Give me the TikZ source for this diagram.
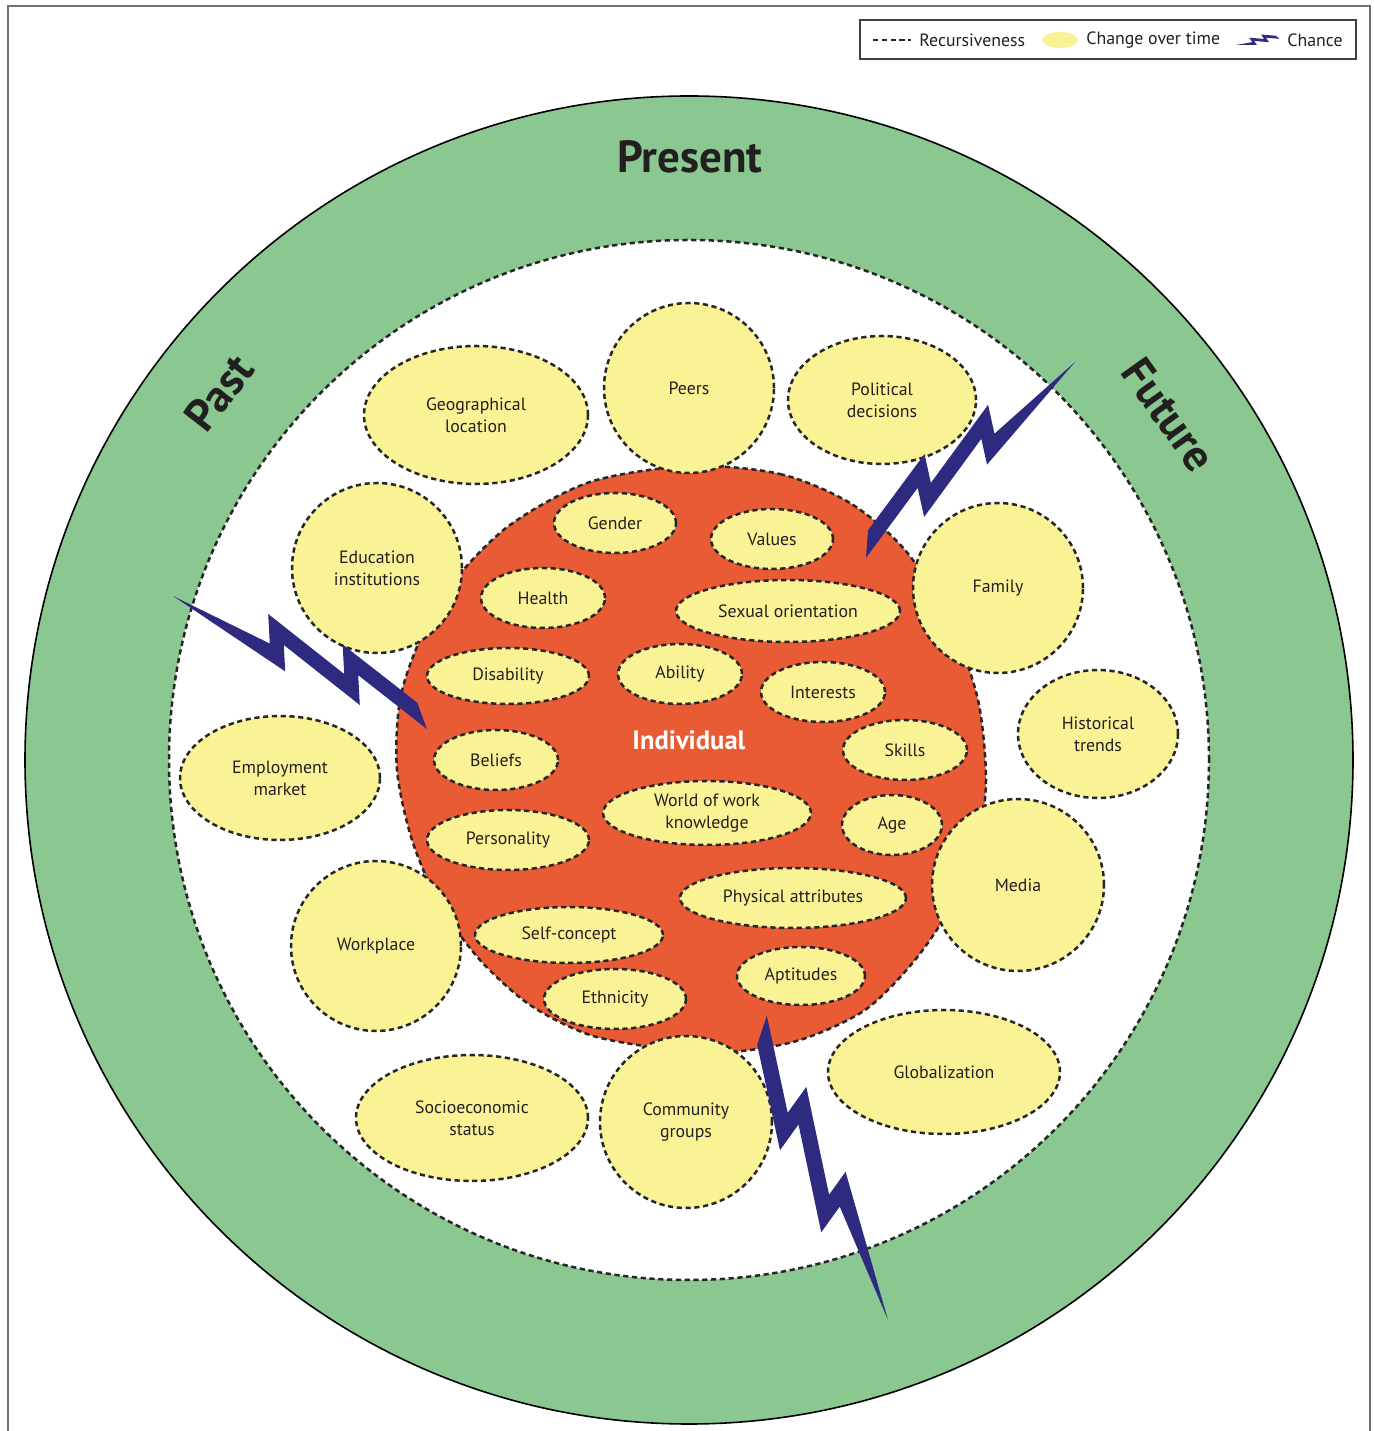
\documentclass[tikz,border=0pt]{standalone}
\usepackage{fontspec}
\setmainfont{PT Sans}
\usetikzlibrary{shapes.geometric}

\definecolor{ringgreen}{RGB}{138,199,145}
\definecolor{blobred}{RGB}{233,91,52}
\definecolor{bubyellow}{RGB}{250,243,150}
\definecolor{chanceblue}{RGB}{46,42,128}
\definecolor{framegray}{RGB}{112,112,112}
\definecolor{textdark}{RGB}{35,31,32}

\begin{document}
\begin{tikzpicture}[x=0.5pt,y=0.5pt]
	\tikzset{
		recursive/.style={draw=black!85,line width=1.25pt,dash pattern=on 2.6pt off 1.8pt},
		bubble/.style={recursive,fill=bubyellow,ellipse,inner sep=0pt,align=center,
			text=textdark,font=\fontsize{8.9}{11}\selectfont},
		legendtext/.style={anchor=west,inner sep=0pt,text=textdark,font=\fontsize{8.9}{11}\selectfont},
		ringtext/.style={inner sep=0pt,text=textdark,font=\fontsize{22.5}{26}\selectfont\bfseries},
		chance/.pic={
			\fill[chanceblue] (0,0) -- (110,3) -- (96,-22) -- (192,0) -- (178,-25) -- (272,-4)
				-- (292,15) -- (205.5,-4.5) -- (219.6,20.7) -- (123.6,-1.3) -- (136.1,21) -- cycle;
		}
	}
	\useasboundingbox (0,0) rectangle (1375,1431);
	\coordinate (c) at (689,671);

	% time ring
	\fill[ringgreen] (c) circle[radius=664];
	\draw[black,line width=0.8pt] (c) circle[radius=664];
	\fill[white] (c) circle[radius=520];
	\draw[recursive] (c) circle[radius=520];
	\node[ringtext] (present) at (690,1274) {Present};
	\node[ringtext,rotate=52] (past) at (219,1038) {Past};
	\node[ringtext,rotate=-54.5] (future) at (1169,1016) {Future};

	% individual
	\path[recursive,fill=blobred] plot[smooth cycle] coordinates {
		(690,965) (780,957) (850,928) (905,881) (950,811) (978,731) (986,651) (978,591)
		(955,531) (915,471) (865,421) (800,391) (730,379) (660,383) (590,396) (530,426)
		(480,471) (440,526) (412,591) (397,661) (400,731) (420,791) (455,851) (510,906)
		(590,949)};

	% context
	\node[bubble,minimum width=112pt,minimum height=69pt] (geo) at (476,1016) {Geographical\\location};
	\node[bubble,minimum width=85pt,minimum height=85pt] (peers) at (689,1043) {Peers};
	\node[bubble,minimum width=94pt,minimum height=64pt] (politic) at (882,1031) {Political\\decisions};
	\node[bubble,minimum width=85pt,minimum height=85pt] (edu) at (377,863) {Education\\institutions};
	\node[bubble,minimum width=85pt,minimum height=85pt] (family) at (998,843) {Family};
	\node[bubble,minimum width=80pt,minimum height=64pt] (history) at (1098,697) {Historical\\trends};
	\node[bubble,minimum width=100pt,minimum height=62pt] (employ) at (280,653) {Employment\\market};
	\node[bubble,minimum width=86pt,minimum height=86pt] (media) at (1018,546) {Media};
	\node[bubble,minimum width=85pt,minimum height=85pt] (work) at (376,485) {Workplace};
	\node[bubble,minimum width=116pt,minimum height=62pt] (global) at (944,359) {Globalization};
	\node[bubble,minimum width=116pt,minimum height=63pt] (socio) at (472,313) {Socioeconomic\\status};
	\node[bubble,minimum width=86pt,minimum height=86pt] (community) at (686,309) {Community\\groups};

	\node[bubble,minimum width=61pt,minimum height=30pt] (gender) at (615,908) {Gender};
	\node[bubble,minimum width=61pt,minimum height=30pt] (values) at (772,892) {Values};
	\node[bubble,minimum width=62pt,minimum height=30pt] (health) at (543,833) {Health};
	\node[bubble,minimum width=112pt,minimum height=31pt] (sexual) at (788,820) {Sexual orientation};
	\node[bubble,minimum width=81pt,minimum height=28pt] (disab) at (508,755) {Disability};
	\node[bubble,minimum width=62pt,minimum height=30pt] (ability) at (680,757) {Ability};
	\node[bubble,minimum width=62pt,minimum height=30pt] (interest) at (823,739) {Interests};
	\node[bubble,minimum width=62pt,minimum height=30pt] (belief) at (496,671) {Beliefs};
	\node[bubble,minimum width=62pt,minimum height=30pt] (skill) at (905,681) {Skills};
	\node[bubble,minimum width=104pt,minimum height=32pt] (wow) at (707,618) {World of work\\knowledge};
	\node[bubble,minimum width=50pt,minimum height=30pt] (age) at (892,606) {Age};
	\node[bubble,minimum width=81pt,minimum height=30pt] (person) at (508,591) {Personality};
	\node[bubble,minimum width=113pt,minimum height=30pt] (physic) at (793,533) {Physical attributes};
	\node[bubble,minimum width=94pt,minimum height=28pt] (self) at (569,496) {Self-concept};
	\node[bubble,minimum width=71pt,minimum height=30pt] (ethnic) at (615,432) {Ethnicity};
	\node[bubble,minimum width=64pt,minimum height=29pt] (aptitude) at (801,455) {Aptitudes};

	\node[text=white,font=\fontsize{13.3}{16}\selectfont\bfseries] (indiv) at (689,691) {Individual};

	% chance
	\path (173,835) pic[rotate=-24.5,xscale=0.98,yscale=-1.05] {chance};
	\path (1075,1069) pic[rotate=-140,xscale=0.98,yscale=1.05] {chance};
	\path (888,111) pic[rotate=114.6,xscale=1.12,yscale=-1.1] {chance};

	% legend
	\draw[black!75,line width=0.6pt] (860,1372) rectangle (1356,1411);
	\draw[recursive] (873,1391) -- (911,1391);
	\node[legendtext] (lrecur) at (919,1391) {Recursiveness};
	\fill[bubyellow] (1060,1391) ellipse[x radius=18,y radius=8];
	\node[legendtext] (lchange) at (1086,1391) {Change over time};
	\path (1236,1386) pic[rotate=12,xscale=0.15,yscale=-0.2] {chance};
	\node[legendtext] (lchance) at (1287,1391) {Chance};

	\draw[framegray,line width=0.9pt] (8,0) -- (8,1425) -- (1370,1425) -- (1370,0);
\end{tikzpicture}
\end{document}
